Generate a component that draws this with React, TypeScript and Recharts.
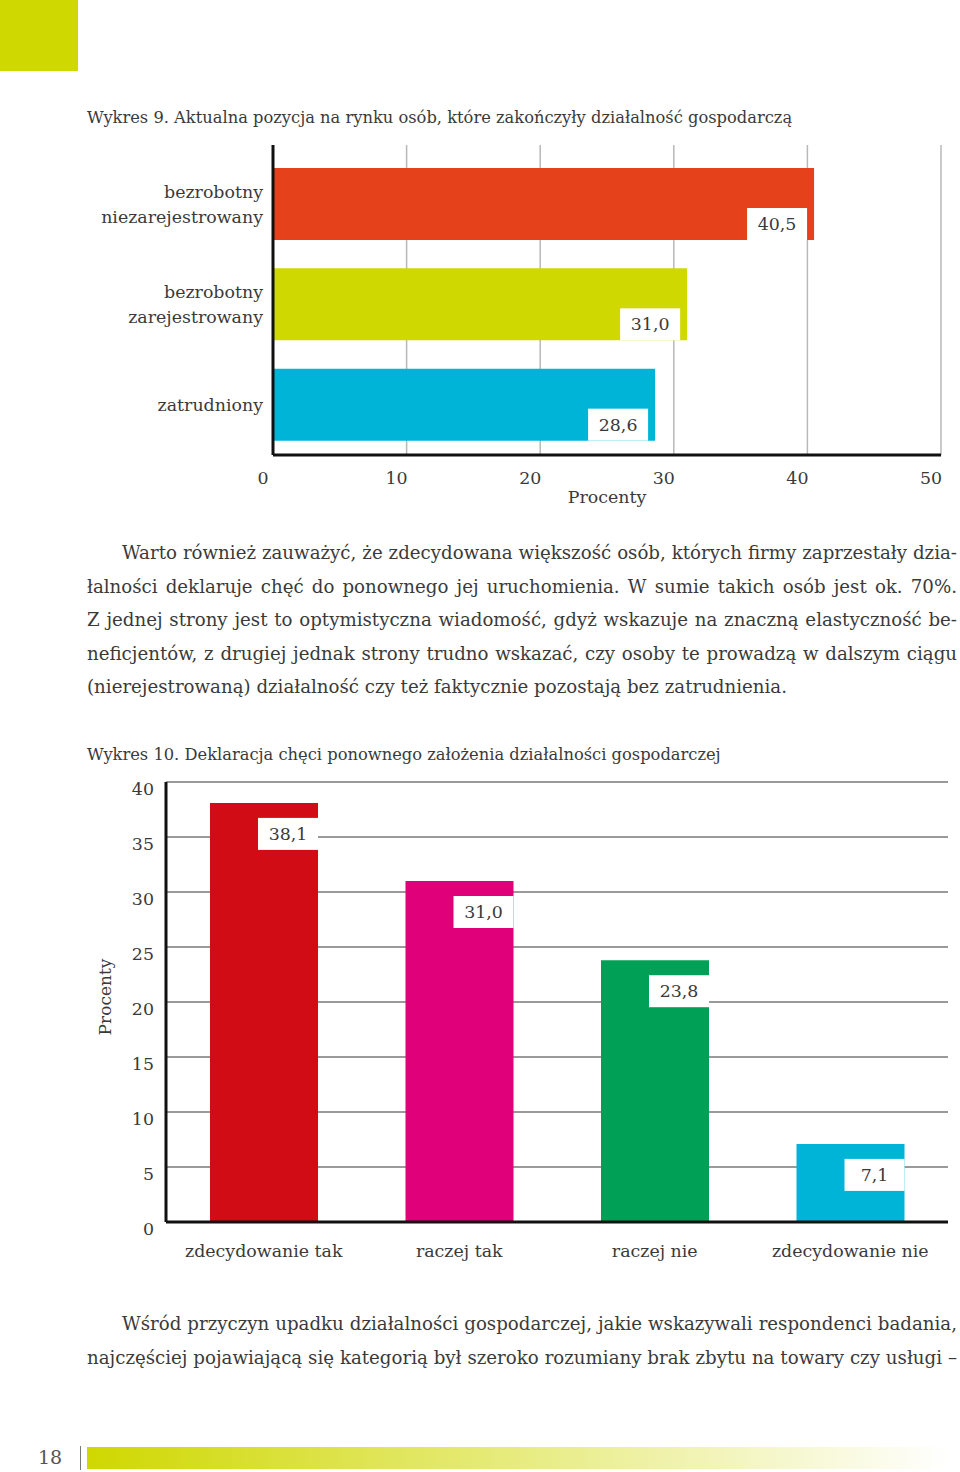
import React from 'react';
import { BarChart, Bar, XAxis, YAxis, CartesianGrid, Cell, LabelList, Label } from 'recharts';

const categories1 = ['bezrobotny\nniezarejestrowany', 'bezrobotny\nzarejestrowany', 'zatrudniony'];
const values1 = [40.5, 31.0, 28.6];
const colors1 = ['#e5411a', '#cfd800', '#00b4d8'];
const ticks1 = [0, 10, 20, 30, 40, 50];

const categories2 = ['zdecydowanie tak', 'raczej tak', 'raczej nie', 'zdecydowanie nie'];
const values2 = [38.1, 31.0, 23.8, 7.1];
const colors2 = ['#d20c15', '#e0007a', '#00a056', '#00b4d8'];
const ticks2 = [0, 5, 10, 15, 20, 25, 30, 35, 40];

const data1 = categories1.map((name, i) => ({ name, value: values1[i] }));
const data2 = categories2.map((name, i) => ({ name, value: values2[i] }));

const FONT = '"DejaVu Serif", serif';
const TEXT = '#3a3a3a';
const FS = 17.4;
const fmt = (v: number) => v.toFixed(1).replace('.', ',');

const CatTick1 = (props: any) => {
  const { x, y, payload } = props;
  const lines = String(payload.value).split('\n');
  const lh = 25;
  const start = -((lines.length - 1) * lh) / 2;
  return (
    <text x={x} y={y} textAnchor="end" fill={TEXT} fontFamily={FONT} fontSize={FS}>
      {lines.map((l, i) => (
        <tspan key={i} x={x} y={y + start + i * lh} dy="0.35em">{l}</tspan>
      ))}
    </text>
  );
};

const NumTick1 = (props: any) => {
  const { x, y, payload } = props;
  return (
    <text x={x - 10} y={y} dy="0.71em" textAnchor="middle" fill={TEXT} fontFamily={FONT} fontSize={FS}>
      {payload.value}
    </text>
  );
};

const Label1 = (props: any) => {
  const { x, y, width, height, value } = props;
  const bx = x + width - 67;
  const by = y + height - 32;
  return (
    <g>
      <rect x={bx} y={by} width={60} height={32} fill="#fff" />
      <text x={bx + 30} y={by + 16} dy="0.35em" textAnchor="middle" fill={TEXT} fontFamily={FONT} fontSize={FS}>
        {fmt(value)}
      </text>
    </g>
  );
};

const Label2 = (props: any) => {
  const { x, y, width, value } = props;
  const bx = x + width - 60;
  const by = y + 15;
  return (
    <g>
      <rect x={bx} y={by} width={60} height={32} fill="#fff" />
      <text x={bx + 30} y={by + 16} dy="0.35em" textAnchor="middle" fill={TEXT} fontFamily={FONT} fontSize={FS}>
        {fmt(value)}
      </text>
    </g>
  );
};

const YLabel2 = (props: any) => {
  const { viewBox } = props;
  const cx = viewBox.x + 25;
  const cy = viewBox.y + viewBox.height / 2 - 5;
  return (
    <text x={cx} y={cy} transform={`rotate(-90 ${cx} ${cy})`} textAnchor="middle" dy="0.35em" fill={TEXT} fontFamily={FONT} fontSize={17}>
      Procenty
    </text>
  );
};

const para1 = [
  'Warto również zauważyć, że zdecydowana większość osób, których firmy zaprzestały dzia-',
  'łalności deklaruje chęć do ponownego jej uruchomienia. W sumie takich osób jest ok. 70%.',
  'Z jednej strony jest to optymistyczna wiadomość, gdyż wskazuje na znaczną elastyczność be-',
  'neficjentów, z drugiej jednak strony trudno wskazać, czy osoby te prowadzą w dalszym ciągu',
  '(nierejestrowaną) działalność czy też faktycznie pozostają bez zatrudnienia.',
];
const para2 = [
  'Wśród przyczyn upadku działalności gospodarczej, jakie wskazywali respondenci badania,',
  'najczęściej pojawiającą się kategorią był szeroko rozumiany brak zbytu na towary czy usługi –',
];

const Paragraph = ({ lines, top, lastJustified }: { lines: string[]; top: number; lastJustified: boolean }) => (
  <div style={{ position: 'absolute', left: 87, top, width: 870, fontFamily: FONT, fontSize: 18.2, lineHeight: '33.5px', color: TEXT }}>
    {lines.map((l, i) => {
      const justify = i < lines.length - 1 || lastJustified;
      return (
        <div key={i} style={{ paddingLeft: i === 0 ? 35 : 0, textAlign: 'justify', textAlignLast: justify ? 'justify' : 'left', whiteSpace: 'nowrap' }}>
          {l}
        </div>
      );
    })}
  </div>
);

export default function App() {
  return (
    <div style={{ position: 'absolute', left: 0, top: 0, width: 960, height: 1472, background: '#fff', overflow: 'hidden' }}>
      <div style={{ position: 'absolute', left: 0, top: 0, width: 78, height: 71, background: '#cfd800' }} />

      <div style={{ position: 'absolute', left: 87, top: 106, fontFamily: FONT, fontSize: 16.3, color: TEXT, whiteSpace: 'nowrap', lineHeight: '24px' }}>
        Wykres 9. Aktualna pozycja na rynku osób, które zakończyły działalność gospodarczą
      </div>

      <div style={{ position: 'absolute', left: 0, top: 100 }}>
        <BarChart width={960} height={420} data={data1} layout="vertical" margin={{ top: 45, right: 19, bottom: 15, left: 73 }}>
          <CartesianGrid horizontal={false} stroke="#b8b8b8" strokeWidth={1.5} />
          <XAxis
            type="number"
            domain={[0, 50]}
            ticks={ticks1}
            height={50}
            axisLine={{ stroke: '#111', strokeWidth: 3 }}
            tickLine={false}
            tickSize={0}
            tickMargin={17}
            tick={<NumTick1 />}
          >
            <Label value="Procenty" position="insideBottom" offset={2} fill={TEXT} fontFamily={FONT} fontSize={FS} />
          </XAxis>
          <YAxis
            type="category"
            dataKey="name"
            width={200}
            padding={{ top: 9, bottom: 0 }}
            axisLine={{ stroke: '#111', strokeWidth: 3 }}
            tickLine={false}
            tickSize={0}
            tickMargin={10}
            tick={<CatTick1 />}
          />
          <Bar dataKey="value" barSize={72} isAnimationActive={false}>
            {data1.map((d, i) => (
              <Cell key={d.name} fill={colors1[i]} />
            ))}
            <LabelList dataKey="value" content={<Label1 />} />
          </Bar>
        </BarChart>
      </div>

      <Paragraph lines={para1} top={536} lastJustified={false} />

      <div style={{ position: 'absolute', left: 87, top: 743, fontFamily: FONT, fontSize: 16.3, color: TEXT, whiteSpace: 'nowrap', lineHeight: '24px' }}>
        Wykres 10. Deklaracja chęci ponownego założenia działalności gospodarczej
      </div>

      <div style={{ position: 'absolute', left: 0, top: 770 }}>
        <BarChart width={960} height={500} data={data2} margin={{ top: 12, right: 12, bottom: 8, left: 80 }}>
          <CartesianGrid vertical={false} stroke="#9a9a9a" strokeWidth={2} />
          <XAxis
            type="category"
            dataKey="name"
            height={40}
            axisLine={{ stroke: '#111', strokeWidth: 3 }}
            tickLine={false}
            tickSize={0}
            tickMargin={23}
            tick={{ fill: TEXT, fontFamily: FONT, fontSize: FS }}
          />
          <YAxis
            type="number"
            domain={[0, 40]}
            ticks={ticks2}
            width={86}
            axisLine={{ stroke: '#111', strokeWidth: 3 }}
            tickLine={false}
            tickSize={0}
            tickMargin={12}
            tick={{ fill: TEXT, fontFamily: FONT, fontSize: FS, dy: 7 }}
          >
            <Label content={<YLabel2 />} />
          </YAxis>
          <Bar dataKey="value" barSize={108} isAnimationActive={false}>
            {data2.map((d, i) => (
              <Cell key={d.name} fill={colors2[i]} />
            ))}
            <LabelList dataKey="value" content={<Label2 />} />
          </Bar>
        </BarChart>
      </div>

      <Paragraph lines={para2} top={1307} lastJustified={true} />

      <div style={{ position: 'absolute', left: 38, top: 1445, fontFamily: FONT, fontSize: 19, color: '#555', lineHeight: '24px' }}>18</div>
      <div style={{ position: 'absolute', left: 80, top: 1446, width: 1, height: 24, background: '#777' }} />
      <div style={{ position: 'absolute', left: 87, top: 1447, width: 863, height: 22, background: 'linear-gradient(to right, #cfd800, #ffffff)' }} />
    </div>
  );
}
